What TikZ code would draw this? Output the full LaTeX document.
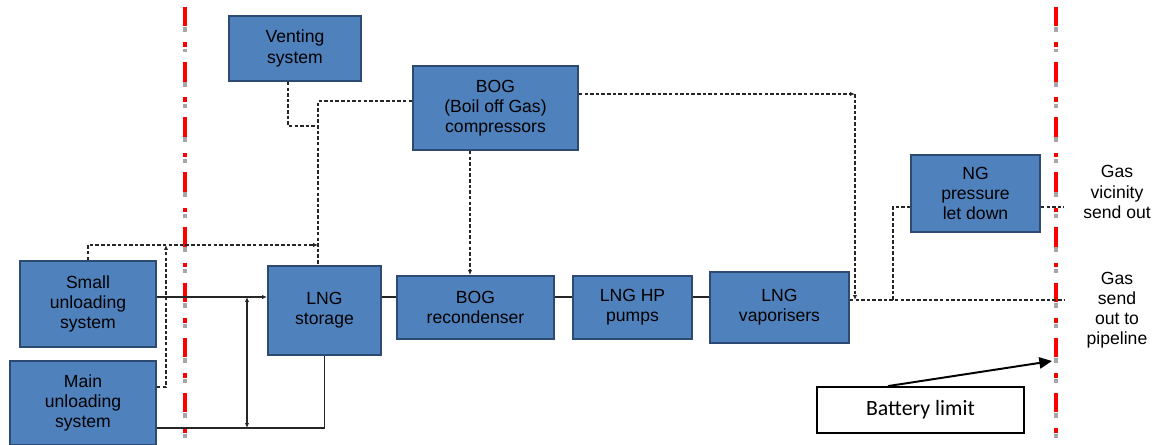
\documentclass[tikz,border=0pt]{standalone}
\usepackage{fontspec}
\setmainfont{Liberation Sans}
\newfontfamily\calibri{Carlito}
\usepackage{tikz}
\usetikzlibrary{arrows.meta}

\definecolor{boxblue}{HTML}{4F81BD}
\definecolor{boxedge}{HTML}{2C4A72}
\definecolor{limitgrey}{HTML}{A6A6A6}

\tikzset{
	unit/.style={draw=boxedge, fill=boxblue, line width=1.3pt, align=center, inner sep=0pt,
		font=\fontsize{12.5}{14.3}\selectfont},
	pipe/.style={draw=black!85, line width=0.8pt},
	vap/.style={draw=black!85, line width=0.9pt, dash pattern=on 2.5pt off 1.5pt},
	tip/.style={-{Latex[length=3.5pt,width=3pt]}},
	lbl/.style={align=center, font=\fontsize{12.5}{14.3}\selectfont},
}

\begin{document}
\begin{tikzpicture}[x=0.025cm, y=-0.025cm]
		\useasboundingbox (0,0) rectangle (1156,445);

		% battery limits
		\foreach \lx in {185,1056} {
			\draw[red, line width=2.8pt, dash pattern=on 13.8pt off 11.3pt on 3.3pt off 10.8pt] (\lx,7) -- (\lx,445);
			\draw[limitgrey, line width=2.8pt, dash pattern=on 3.5pt off 11.8pt on 2.8pt off 21.1pt] (\lx,27) -- (\lx,445);
		}

		% units
		\node[unit, minimum width=3.3cm, minimum height=1.625cm] (vent) at (295,48.5) {Venting\\system};
		\node[unit, minimum width=4.125cm, minimum height=2.1cm] (bogc) at (495.5,108) {BOG\\(Boil off Gas)\\compressors};
		\node[unit, minimum width=3.4cm, minimum height=2.15cm] (small) at (88,304) {Small\\unloading\\system};
		\node[unit, minimum width=3.65cm, minimum height=2.1cm] (main) at (83,403) {Main\\unloading\\system};
		\node[unit, minimum width=2.825cm, minimum height=2.225cm] (store) at (324.5,310.5) {LNG\\storage};
		\node[unit, minimum width=3.925cm, minimum height=1.575cm] (recon) at (475.5,307.5) {BOG\\recondenser};
		\node[unit, minimum width=2.975cm, minimum height=1.575cm] (pumps) at (632.5,307.5) {LNG HP\\pumps};
		\node[unit, minimum width=3.475cm, minimum height=1.775cm] (vapr) at (779.5,307.5) {LNG\\vaporisers};
		\node[unit, minimum width=3.225cm, minimum height=1.925cm] (ngp) at (975.5,193.5) {NG\\pressure\\let down};

		% send out labels
		\node[lbl] (vic) at (1117,192) {Gas\\vicinity\\send out};
		\node[lbl] (pipeout) at (1117,310) {Gas\\send\\out to\\pipeline};

		% junctions
		\coordinate (j1) at (247,297);
		\coordinate (j2) at (247,428);
		\coordinate (vh) at (318,245);
		\coordinate (mh) at (166,245);
		\coordinate (vo) at (855,300);
		\coordinate (lo) at (893,300);
		\coordinate (so1) at (1064,300);
		\coordinate (so2) at (1064,207);

		% liquid lines
		\draw[pipe] (small.east |- j1) -- (j1);
		\draw[pipe, tip] (j1) -- (store.west |- j1);
		\draw[pipe] (main.east |- j2) -- (j2) -| (store.south);
		\draw[pipe, {Latex[length=3.5pt,width=3pt]}-{Latex[length=3.5pt,width=3pt]}] (j1) -- (j2);
		\draw[pipe] (store.east |- j1) -- (recon.west |- j1);
		\draw[pipe] (recon.east |- j1) -- (pumps.west |- j1);
		\draw[pipe] (pumps.east |- j1) -- (vapr.west |- j1);

		% vapour lines
		\draw[vap, tip] (small.north) |- (vh);
		\draw[vap, tip] (main.east |- 0,387) -| (mh);
		\draw[vap] (bogc.west |- 0,101) -| (vh |- store.north);
		\draw[vap] (vent.south -| 288,0) |- (vh |- 0,126);
		\draw[vap, tip] (bogc.south -| 470,0) -- (recon.north -| 470,0);
		\draw[vap, tip] (bogc.east |- 0,94) -- (vo |- 0,94);
		\draw[vap, tip] (vo |- 0,94) -- (vo);

		% gas send out
		\draw[vap] (vapr.east |- vo) -- (so1);
		\draw[vap] (lo) |- (ngp.west |- so2);
		\draw[vap] (ngp.east |- so2) -- (so2);

		% battery limit
		\node[draw, fill=white, line width=1.3pt, minimum width=5.175cm, minimum height=1.15cm,
			font=\calibri\fontsize{15.5}{18}\selectfont] (bl) at (920.5,410) {Battery limit};
		\draw[line width=1.4pt, -{Triangle[length=9pt,width=8pt]}] (bl.north -| 888,0) -- (1052,361);
	\end{tikzpicture}
\end{document}
